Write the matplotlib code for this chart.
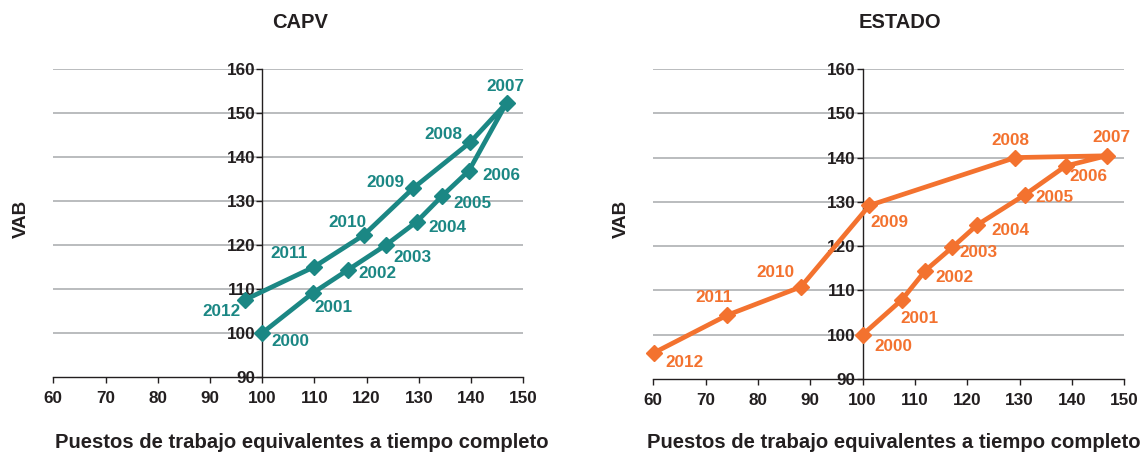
import matplotlib
matplotlib.use("Agg")
import matplotlib.pyplot as plt

plt.rcParams['font.family'] = ['Liberation Sans', 'DejaVu Sans']

years = ["2000", "2001", "2002", "2003", "2004", "2005", "2006",
         "2007", "2008", "2009", "2010", "2011", "2012"]

capv_empleo = [100.0, 109.7, 116.5, 123.7, 129.6, 134.5, 139.6, 146.8, 139.8, 128.9, 119.5, 109.9, 96.8]
capv_vab = [100.0, 109.1, 114.4, 120.0, 125.3, 131.2, 136.9, 152.3, 143.3, 132.9, 122.3, 115.0, 107.6]

estado_empleo = [100.0, 107.5, 112.0, 117.1, 121.9, 131.0, 138.8, 146.6, 129.2, 101.3, 88.2, 74.1, 60.1]
estado_vab = [100.0, 107.9, 114.5, 119.7, 124.8, 131.6, 138.1, 140.4, 140.0, 129.2, 110.8, 104.4, 95.9]

x_ticks = [60, 70, 80, 90, 100, 110, 120, 130, 140, 150]
y_ticks = [90, 100, 110, 120, 130, 140, 150, 160]

teal = "#1b8784"
orange = "#f3722f"
dark = "#231f20"

# label offsets in pixels (dx, dy)
capv_offsets = [(28, -8), (21, -15), (29, -4), (26, -12), (31, -6), (30, -8), (32, -5),
                (-1, 16), (-27, 8), (-28, 6), (-17, 12), (-25, 14), (-24, -12)]
estado_offsets = [(31, -12), (18, -19), (29, -7), (26, -5), (33, -6), (30, -3), (23, -11),
                  (5, 18), (-5, 17), (20, -17), (-25, 14), (-13, 18), (31, -10)]

fig = plt.figure(figsize=(11.44, 4.53), dpi=100)

def make_panel(rect, xs, ys, color, offsets, title, title_x, vab_x, xlabel_x):
    ax = fig.add_axes(rect)
    ax.set_xlim(60, 150)
    ax.set_ylim(90, 160)
    for s in ["top", "right"]:
        ax.spines[s].set_visible(False)
    ax.spines["left"].set_position(("data", 100))
    ax.spines["left"].set_color(dark)
    ax.spines["bottom"].set_color(dark)
    ax.spines["left"].set_linewidth(1.0)
    ax.spines["bottom"].set_linewidth(1.0)
    ax.set_xticks(x_ticks)
    ax.set_yticks(y_ticks)
    ax.tick_params(axis="both", colors=dark, labelsize=12.3, length=4, width=1.0)
    ax.tick_params(axis="y", pad=1)
    ax.tick_params(axis="x", pad=6)
    for lab in ax.get_xticklabels() + ax.get_yticklabels():
        lab.set_fontweight("bold")
    for yv in y_ticks[1:]:
        ax.axhline(yv, color="#a7a9ac", lw=1.1, zorder=0)
    ax.plot(xs, ys, color=color, lw=3.4, marker="D", markersize=8.5,
            markerfacecolor=color, markeredgecolor=color, zorder=3, clip_on=False)
    for xv, yv, lab, (dx, dy) in zip(xs, ys, years, offsets):
        ax.annotate(lab, (xv, yv), xytext=(dx, dy), textcoords="offset pixels",
                    ha="center", va="center", color=color, fontsize=12.3,
                    fontweight="bold", zorder=4)
    fig.text(title_x / 1144, 1 - 22 / 453, title, ha="center", va="center",
             fontsize=14.5, fontweight="bold", color=dark)
    fig.text(vab_x / 1144, 1 - 219 / 453, "VAB", ha="center", va="center",
             rotation=90, fontsize=13.5, fontweight="bold", color=dark)
    fig.text(xlabel_x / 1144, 1 - 443 / 453,
             "Puestos de trabajo equivalentes a tiempo completo",
             ha="center", va="center", fontsize=14.6, fontweight="bold", color=dark)
    return ax

make_panel([53.3 / 1144, 76 / 453, 470 / 1144, 308 / 453],
           capv_empleo, capv_vab, teal, capv_offsets, "CAPV", 300, 21, 302)
make_panel([653.3 / 1144, 74 / 453, 471 / 1144, 310 / 453],
           estado_empleo, estado_vab, orange, estado_offsets, "ESTADO", 900, 621, 894)

fig.savefig("out.png", dpi=100)
